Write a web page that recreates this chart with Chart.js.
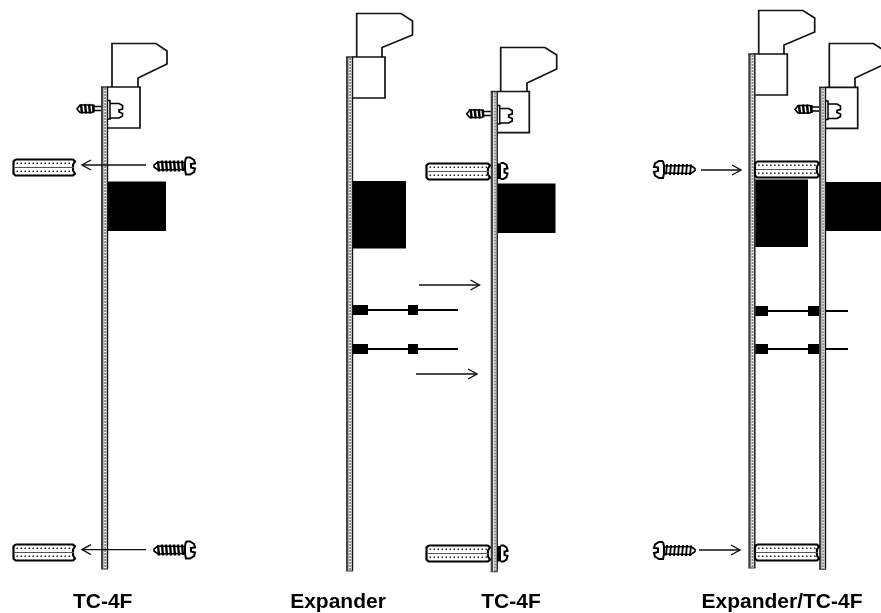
<!DOCTYPE html>
<html>
<head>
<meta charset="utf-8">
<style>
html,body{margin:0;padding:0;background:#fff}
#w{width:881px;height:613px;position:relative}
canvas{display:block}
</style>
<script src="https://cdn.jsdelivr.net/npm/chart.js@4"></script>
</head>
<body>
<div id="w"><canvas id="c" width="881" height="613"></canvas></div>
<script>
// Axis labels under each assembly
const labelPositions = [102.7, 338, 511, 782];
const labelTexts = ["TC-4F", "Expander", "TC-4F", "Expander/TC-4F"];

// Boards: left x, top y, bottom y
const boards = [[101,87,569],[346,57,571],[490.7,91.5,571.7],[748.3,54,568],[819,87.3,569.3]];

// Bracket outlines and boxes
const brackets = [
  [[112,87],[112,43.5],[156,43.5],[167,51],[167,64],[138,78],[138,87]],
  [[356.7,57],[356.7,13.5],[401,13.5],[412.5,21],[412.5,35],[382,47.5],[382,57]],
  [[500.7,91.5],[500.7,47.5],[545,47.5],[556.7,55],[556.7,69],[527,83],[527,91.5]],
  [[758.7,54],[758.7,10.5],[803,10.5],[814.7,18],[814.7,32],[784,45],[784,54]],
  [[829.3,87.3],[829.3,43.5],[873.5,43.5],[885,51],[885,64],[855,78],[855,87.3]]
];
const boxes = [
  [[107,87],[140,87],[140,128],[107,128]],
  [[352,57],[385,57],[385,98],[352,98]],
  [[497,91.5],[529.3,91.5],[529.3,132.7],[497,132.7]],
  [[754,54],[787.3,54],[787.3,95],[754,95]],
  [[825,87.3],[857.7,87.3],[857.7,128.3],[825,128.3]]
];

// Black components: x0, y0, x1, y1
const blackBlocks = [
  [108,181.5,166,231],[352,181,406,248.5],[497,183.5,555.5,233],
  [754,179.5,808,247],[825,182,881,231],
  [352,305,368,315],[408,305,418,315],[352,344,368,354],[408,344,418,354],
  [754,306,768,316],[808,306,819,316],[754,344,768,354],[808,344,819,354]
];
// Wires: x0, x1, y
const wires = [[368,458,310],[368,458,349],[768,848,311],[768,848,349]];
// Arrows: tail x, tip x, y
const arrows = [[146,82,165],[146,82,549.6],[419,479.5,285],[416,477,374],[701,741,170],[699,740,550]];

// Small screw shape, relative to board left x / screw centre y
const smallScrewOutline = [[0,-2],[-7,-2],[-9,-3.5],[-21,-3.5],[-24,0.5],[-21,4],[-9,4],[-7,2],[0,2]];
const smallScrewThreads = [[[-20,-4],[-19,5]],[[-16,-4.5],[-15,5]],[[-12,-4.5],[-11,5]],[[-8,-4],[-7.5,4]]];
const smallScrewBar = [[7,-8],[9,-8],[9,10.5],[7,10.5]];
const smallScrewHead = [[9,-5],[18,-5],[21.5,-3],[21.5,0.5],[18,1.5],[18,3.5],[21.5,5],[21.5,7.5],[18,9.5],[9,9.5]];
const smallScrews = [[101,108.5],[490.7,113.5],[819,109]];

// Large screw shape, relative to head end x / centre y; dir 1 = head on the right
const largeScrewOutline = [[-11,-3.5],[-37,-4],[-41,-1],[-41,1],[-37,4],[-11,3.5]];
const largeScrewThreads = [[[-37,-5],[-36,5.5]],[[-33,-5.5],[-32,5.5]],[[-29,-5.5],[-28,5.5]],[[-25,-5.5],[-24,5.5]],[[-21,-5.5],[-20,5.5]],[[-17,-5.5],[-16,5.5]],[[-13,-5.5],[-12,5]]];
const largeScrewHead = [[-9,-8.5],[-5,-8.5],[-1,-6],[0,-2.5],[-4,-2],[-4,1.5],[0,2.5],[-1,6],[-5,8.5],[-9,8.5],[-10,4],[-10,-4],[-9,-8.5]];
const largeScrews = [[195,166,1],[195,550,1],[654,169.5,-1],[654,550.5,-1]];
// Heads only (screw passing into a standoff): end x, centre y
const stubHeads = [[507.5,171],[507.5,553.5]];
const stubHeadShape = [[-7,-8],[-4,-8],[-1,-6],[0,-2.5],[-3,-2],[-3,1.5],[0,2.5],[-1,6],[-4,8],[-7,8]];
const stubBlack = [[497,163.5,501,179],[497,546,501,561.5]];

// Standoffs: left x, top y, width
const standoffs = [[13.5,159.5,61.5],[13.5,544.5,61.5],[426.5,163.5,63.5],[426.5,545.5,63.5],[755,161.5,64],[755,544.5,64]];
const standoffOutline = [[2,0],[60,0],[62,2],[60,5],[60,11],[62,14],[60,16],[2,16],[0,14],[0,2],[2,0]];
const standoffMiddle = [[1,8],[61,8]];
const standoffRowA = [[3,3.7],[59,3.7]];
const standoffRowB = [[3,11.7],[59,11.7]];

const datasets = [];
function add(points, color, width, extra) {
  datasets.push(Object.assign({
    data: points.map(p => ({x: p[0], y: p[1]})),
    showLine: true, borderColor: color, borderWidth: width,
    pointRadius: 0, pointHoverRadius: 0, tension: 0, fill: false,
    borderJoinStyle: 'miter', borderCapStyle: 'butt', clip: false,
    order: -datasets.length
  }, extra || {}));
}
function addRect(r, color) {
  add([[r[0],r[1]],[r[2],r[1]],[r[2],r[3]],[r[0],r[3]],[r[0],r[1]]], color, 0, {fill: 'shape', backgroundColor: color});
}
const shift = (pts, dx, dy, sx) => pts.map(p => [dx + (sx||1) * p[0], dy + p[1]]);

brackets.forEach(b => add(b, '#111', 1.7));
boxes.forEach(b => add(b, '#111', 1.7));
blackBlocks.forEach(b => addRect(b, '#000'));
wires.forEach(w => add([[w[0],w[2]],[w[1],w[2]]], '#000', 2.2));

boards.forEach(b => {
  addRect([b[0], b[1], b[0]+7, b[2]], '#fff');
  add([[b[0]+1.2,b[1]],[b[0]+1.2,b[2]]], '#444', 2.4);
  add([[b[0]+4.2,b[1]],[b[0]+4.2,b[2]]], '#888', 2);
  add([[b[0]+4.2,b[1]],[b[0]+4.2,b[2]]], '#fff', 2, {borderDash:[1,2]});
  add([[b[0]+6.5,b[1]],[b[0]+6.5,b[2]]], '#111', 1.4);
  add([[b[0],b[1]],[b[0]+7,b[1]]], '#222', 1.4);
  add([[b[0],b[2]],[b[0]+7,b[2]]], '#555', 1.2);
});

standoffs.forEach(s => {
  const sx = s[2] / 62;
  add(shift(standoffOutline, s[0], s[1], sx), '#000', 2.2);
  add(shift(standoffMiddle, s[0], s[1], sx), '#555', 1.2);
  add(shift(standoffRowA, s[0], s[1], sx), '#222', 1.6, {borderDash:[1.5,2.5]});
  add(shift(standoffRowB, s[0], s[1], sx), '#222', 1.6, {borderDash:[1.5,2.5]});
});

arrows.forEach(a => {
  const d = a[0] > a[1] ? 9 : -9;
  add([[a[0],a[2]],[a[1],a[2]]], '#111', 1.3);
  add([[a[1]+d,a[2]-5],[a[1],a[2]],[a[1]+d,a[2]+5]], '#111', 1.4);
});

smallScrews.forEach(s => {
  add(shift(smallScrewOutline, s[0], s[1]), '#000', 1.6);
  smallScrewThreads.forEach(t => add(shift(t, s[0], s[1]), '#000', 2.4));
  add(shift(smallScrewBar, s[0], s[1]), '#000', 1.5);
  add(shift(smallScrewHead, s[0], s[1]), '#000', 1.7);
});

largeScrews.forEach(s => {
  add(shift(largeScrewOutline, s[0], s[1], s[2]), '#000', 1.6);
  largeScrewThreads.forEach(t => add(shift(t, s[0], s[1], s[2]), '#000', s[2] > 0 ? 2.4 : 1.8));
  add(shift(largeScrewHead, s[0], s[1], s[2]), '#000', 2);
});
stubBlack.forEach(b => addRect(b, '#000'));
stubHeads.forEach(s => add(shift(stubHeadShape, s[0], s[1]), '#000', 2));

new Chart(document.getElementById('c'), {
  type: 'scatter',
  data: { datasets },
  options: {
    responsive: false, animation: false, devicePixelRatio: 1,
    layout: { padding: 0 },
    plugins: { legend: {display:false}, tooltip: {enabled:false} },
    events: [],
    scales: {
      x: {
        type: 'linear', min: 0, max: 881,
        grid: {display:false, drawTicks:false}, border: {display:false},
        afterFit: s => { s.height = 23; },
        afterBuildTicks: s => { s.ticks = labelPositions.map(v => ({value: v})); },
        ticks: {
          autoSkip: false, maxRotation: 0, minRotation: 0, padding: 0,
          color: '#000', font: {family: '"Liberation Sans"', size: 21, weight: 'bold'},
          callback: (v, i) => labelTexts[i]
        }
      },
      y: { type: 'linear', min: 0, max: 590, reverse: true, display: false }
    }
  }
});
</script>
</body>
</html>
